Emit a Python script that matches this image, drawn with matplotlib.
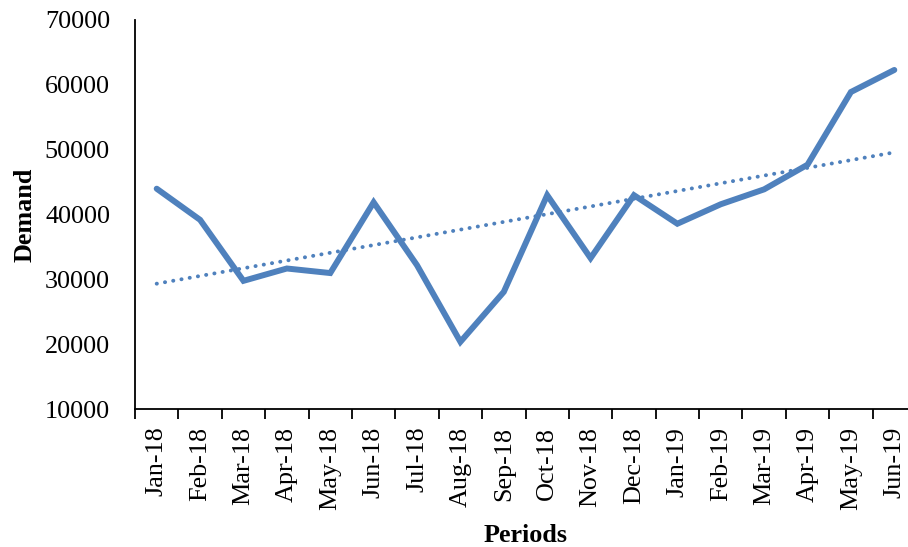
import matplotlib.pyplot as plt
import numpy as np

periods = ["Jan-18", "Feb-18", "Mar-18", "Apr-18", "May-18", "Jun-18",
           "Jul-18", "Aug-18", "Sep-18", "Oct-18", "Nov-18", "Dec-18",
           "Jan-19", "Feb-19", "Mar-19", "Apr-19", "May-19", "Jun-19"]
demand = [44000, 39200, 29800, 31700, 31000, 41900,
          32200, 20400, 28100, 43000, 33300, 43000,
          38600, 41600, 43900, 47700, 58900, 62300]
yticks = [10000, 20000, 30000, 40000, 50000, 60000, 70000]

BLUE = "#4F81BD"
plt.rcParams["font.family"] = ["Liberation Serif", "DejaVu Serif"]

fig = plt.figure(figsize=(9.08, 5.47), dpi=100)
W, H = 908, 547
left, right, top, bottom = 135, 916, 20, 409.3
ax = fig.add_axes([left / W, 1 - bottom / H, (right - left) / W, (bottom - top) / H])

x = np.arange(len(periods))
y = np.array(demand, dtype=float)
ax.plot(x, y, color=BLUE, lw=4.3, solid_joinstyle="miter", solid_capstyle="round")

# linear trendline
k, b = np.polyfit(x, y, 1)
ax.plot(x, k * x + b, color=BLUE, lw=2.8, linestyle=(0, (0.05, 2.1)),
        dash_capstyle="round")

ax.set_xlim(-0.5, len(periods) - 0.5)
ax.set_ylim(10000, 70000)
ax.set_yticks(yticks)
ax.set_yticklabels([str(v) for v in yticks], fontsize=18.8)
ax.set_xticks(x)
ax.set_xticklabels(periods, rotation=90, fontsize=18.8)
ax.set_xticks(np.arange(-0.5, len(periods)), minor=True)
ax.tick_params(axis="x", which="major", length=0, pad=12.5)
ax.tick_params(axis="x", which="minor", length=7, width=1.3, direction="out")
ax.tick_params(axis="y", length=0, pad=18)

for s in ("top", "right"):
    ax.spines[s].set_visible(False)
for s in ("left", "bottom"):
    ax.spines[s].set_linewidth(1.3)

ax.set_ylabel("Demand", fontsize=18.8, fontweight="bold")
ax.yaxis.set_label_coords(-0.141, 0.5)
ax.set_xlabel("Periods", fontsize=18.8, fontweight="bold")
ax.xaxis.set_label_coords(0.5, -0.323)
ax.xaxis.label.set_va("center")
ax.yaxis.label.set_va("center")

fig.savefig("out.png", dpi=100)
